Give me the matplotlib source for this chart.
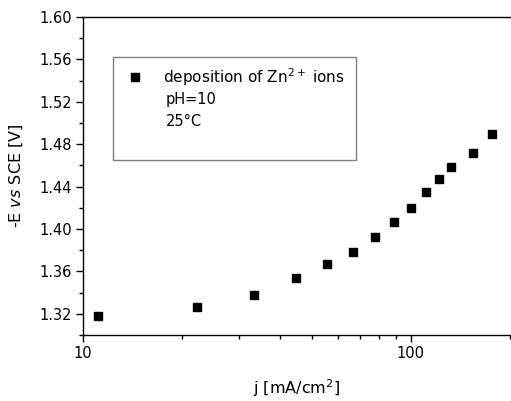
import matplotlib
matplotlib.use("Agg")
import matplotlib.pyplot as plt
from matplotlib.patches import Rectangle
from matplotlib.ticker import FixedLocator, FixedFormatter, NullFormatter

plt.rcParams['font.family'] = ['DejaVu Sans']
plt.rcParams['mathtext.fontset'] = 'dejavusans'

# current density j [mA/cm2] and potential -E vs SCE [V]
j = [11.1, 22.2, 33.3, 44.5, 55.6, 66.5, 77.6, 88.7, 100, 111, 122, 133, 155, 177]
E = [1.3175, 1.326, 1.3377, 1.3533, 1.3668, 1.3787, 1.3926, 1.4064,
     1.4196, 1.4347, 1.4476, 1.4586, 1.4718, 1.4894]

yTicks = [1.32, 1.36, 1.40, 1.44, 1.48, 1.52, 1.56, 1.60]
legendLines = ["deposition of Zn$^{2+}$ ions", "pH=10", "25°C"]

fig = plt.figure(figsize=(5.11, 4.01), dpi=100)
ax = fig.add_axes([0.1624, 0.1646, 0.8376, 0.793])

ax.plot(j, E, linestyle="none", marker="s", markersize=5.5, color="black")

ax.set_xscale("log")
ax.set_xlim(10, 202)
ax.set_ylim(1.30, 1.60)

ax.xaxis.set_major_locator(FixedLocator([10, 100]))
ax.xaxis.set_major_formatter(FixedFormatter(["10", "100"]))
ax.xaxis.set_minor_locator(FixedLocator([20, 30, 40, 50, 60, 70, 80, 90, 200]))
ax.xaxis.set_minor_formatter(NullFormatter())
ax.set_yticks(yTicks)
ax.set_yticklabels([f"{t:.2f}" for t in yTicks])
ax.yaxis.set_minor_locator(FixedLocator([1.30 + 0.02 * k for k in range(16)]))

ax.tick_params(which="both", direction="out", labelsize=10.5, colors="black",
               top=False, right=False)
ax.tick_params(which="major", length=5, width=1, pad=3)
ax.tick_params(which="minor", length=3, width=1)
ax.spines["right"].set_visible(False)
for s in ["left", "bottom", "top"]:
    ax.spines[s].set_linewidth(1.0)

ax.set_xlabel("j [mA/cm$^2$]", fontsize=11.5, labelpad=12)
ax.set_ylabel("-E $\\mathit{vs}$ SCE [V]", fontsize=11.5, labelpad=10)

# legend box
ax.add_patch(Rectangle((0.070, 0.550), 0.568, 0.324, transform=ax.transAxes,
                       fill=False, edgecolor="#808080", linewidth=1.0))
ax.plot([0.1215], [0.811], transform=ax.transAxes, linestyle="none",
        marker="s", markersize=5.5, color="black")
ax.text(0.187, 0.811, legendLines[0], transform=ax.transAxes, fontsize=11, va="center")
ax.text(0.194, 0.742, legendLines[1], transform=ax.transAxes, fontsize=10.5, va="center")
ax.text(0.194, 0.670, legendLines[2], transform=ax.transAxes, fontsize=10.5, va="center")

fig.savefig("out.png", dpi=100)
